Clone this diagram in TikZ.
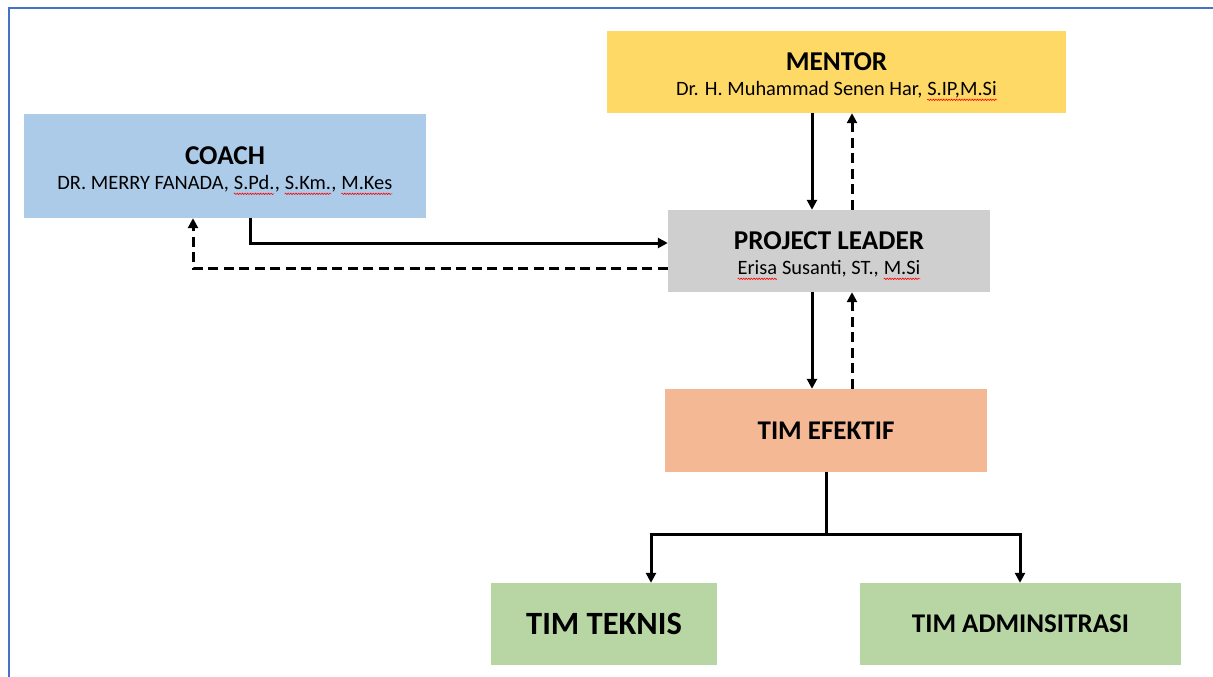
\documentclass[tikz,border=0pt]{standalone}
\usepackage{fontspec}
\setmainfont{Carlito}
\usetikzlibrary{arrows.meta,decorations.pathmorphing}
\newcommand\redsq[1]{\tikz[baseline=(sqt.base),x=1cm,y=1cm]{\node[rectangle, inner sep=0pt, outer sep=0pt, minimum width=0pt, minimum height=0pt, fill=none, draw=none] (sqt) {#1};\draw[red, line width=0.6pt, decorate, decoration={snake, amplitude=0.7pt, segment length=2.6pt}] ([yshift=-4pt]sqt.base west) -- ([yshift=-4pt]sqt.base east);}}
\newcommand\twoline[2]{{\fontsize{27.2}{25.8}\selectfont\bfseries #1}\\{\fontsize{20.4}{25.8}\selectfont #2}}
\definecolor{framecol}{RGB}{68,114,196}
\definecolor{mentorcol}{RGB}{255,217,102}
\definecolor{coachcol}{RGB}{172,203,233}
\definecolor{plcol}{RGB}{208,207,207}
\definecolor{efcol}{RGB}{244,185,148}
\definecolor{greencol}{RGB}{183,214,163}
\begin{document}
\begin{tikzpicture}[x=1pt,y=-1pt,
  box/.style={rectangle, inner sep=0pt, align=center, text=black, font=\fontsize{20.4}{25.8}\selectfont},
  label text/.style={rectangle, inner sep=0pt, align=center, text=black, font=\fontsize{20.4}{25.8}\selectfont},
  solidarrow/.style={line width=3pt, -{Triangle[length=10pt,width=10pt]}},
  dasharrow/.style={line width=3pt, dash pattern=on 10pt off 5.5pt, -{Triangle[length=10pt,width=10pt]}},
  plainline/.style={line width=3pt}]
\useasboundingbox (0,0) rectangle (1213,677);
\fill[white] (0,0) rectangle (1213,677);
\draw[framecol, line width=2pt] (9,677) -- (9,8) -- (1213,8);

\node[box, fill=mentorcol, minimum width=459pt, minimum height=82pt] (mentor) at (836.5,72) {};
\node[label text] (mentortxt) at ([yshift=-4.5pt]mentor.center)
  {\twoline{MENTOR}{Dr. H. Muhammad Senen Har, \redsq{S.IP,M.Si}}};
\node[box, fill=coachcol, minimum width=402pt, minimum height=104pt] (coach) at (225,166) {};
\node[label text] (coachtxt) at ([yshift=-4.5pt]coach.center)
  {\twoline{COACH}{DR. MERRY FANADA, \redsq{S.Pd.}, \redsq{S.Km.}, \redsq{M.Kes}}};
\node[box, fill=plcol, minimum width=322pt, minimum height=82pt] (pl) at (829,251) {};
\node[label text] (pltxt) at ([yshift=-4.5pt]pl.center)
  {\twoline{PROJECT LEADER}{\redsq{Erisa} Susanti, ST., \redsq{M.Si}}};
\node[box, fill=efcol, minimum width=322pt, minimum height=83pt, font=\fontsize{27}{30}\selectfont\bfseries] (ef) at (826,430.5) {TIM EFEKTIF};
\node[box, fill=greencol, minimum width=226pt, minimum height=82pt, font=\fontsize{32.5}{36}\selectfont\bfseries] (tek) at (604,624) {TIM TEKNIS};
\node[box, fill=greencol, minimum width=321pt, minimum height=82pt, font=\fontsize{27}{30}\selectfont\bfseries] (adm) at (1020.5,624) {TIM ADMINSITRASI};

% mentor <-> project leader
\draw[solidarrow] (812,0 |- mentor.south) -- (812,0 |- pl.north);
\draw[dasharrow] (852,0 |- pl.north) -- (852,0 |- mentor.south);
% coach <-> project leader
\draw[solidarrow] (250,0 |- coach.south) -- (250,243) -- (pl.west |- 0,243);
\draw[dasharrow] (pl.west |- 0,268) -- (193,268) -- (193,0 |- coach.south);
% project leader <-> tim efektif
\draw[solidarrow] (812,0 |- pl.south) -- (812,0 |- ef.north);
\draw[dasharrow] (852,0 |- ef.north) -- (852,0 |- pl.south);
% tim efektif -> teams
\coordinate (split) at (826,534);
\coordinate (lsplit) at (651,534);
\coordinate (rsplit) at (1020,534);
\draw[plainline] (ef.south) -- (split);
\draw[plainline] ([xshift=-1.5pt]lsplit) -- ([xshift=1.5pt]rsplit);
\draw[solidarrow] (lsplit) -- (lsplit |- tek.north);
\draw[solidarrow] (rsplit) -- (rsplit |- adm.north);
\end{tikzpicture}
\end{document}
